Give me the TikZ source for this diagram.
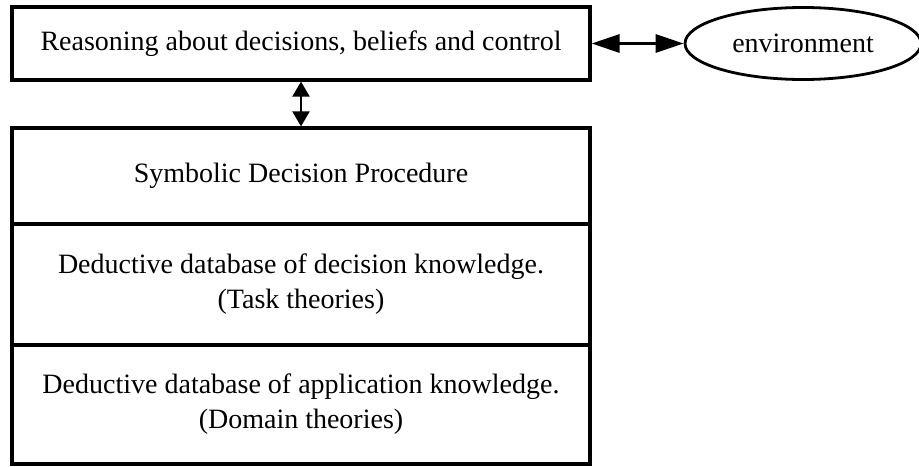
\documentclass[tikz,border=0pt]{standalone}
\usepackage{fontspec}
\setmainfont{Liberation Serif}
\usetikzlibrary{arrows.meta,shapes.geometric}

\begin{document}
\begin{tikzpicture}[x=0.5pt, y=-0.5pt, thick]
\tikzset{layer/.style = {draw, line width=1.6pt, minimum width=289pt, inner sep=0pt, align=center, font=\fontsize{14}{17.5}\selectfont}}
\tikzset{bigtip/.style = {line width=1.6pt, {Triangle[length=14pt, width=9pt]}-{Triangle[length=14pt, width=9pt]}}}
\tikzset{smalltip/.style = {line width=1.1pt, {Triangle[length=7.5pt, width=8.5pt]}-{Triangle[length=7.5pt, width=8.5pt]}}}
\useasboundingbox (0,0) rectangle (919,466);

\node[layer, minimum height=36.5pt] (reason) at (301,43.5) {Reasoning about decisions, beliefs and control};
\node[draw, ellipse, line width=1.4pt, minimum width=118pt, minimum height=36pt, inner sep=0pt, font=\fontsize{14}{17.5}\selectfont] (env) at (803,43.5) {environment};

\node[layer, minimum height=48pt] (symbolic) at (301,176) {Symbolic Decision Procedure};
\node[layer, minimum height=60.5pt] (task) at (301,284.5) {Deductive database of decision knowledge.\\(Task theories)};
\node[layer, minimum height=59.5pt] (domain) at (301,404.5) {Deductive database of application knowledge.\\(Domain theories)};

\draw[bigtip] (reason) -- (env);
\draw[smalltip] (reason) -- (symbolic);
\end{tikzpicture}
\end{document}
